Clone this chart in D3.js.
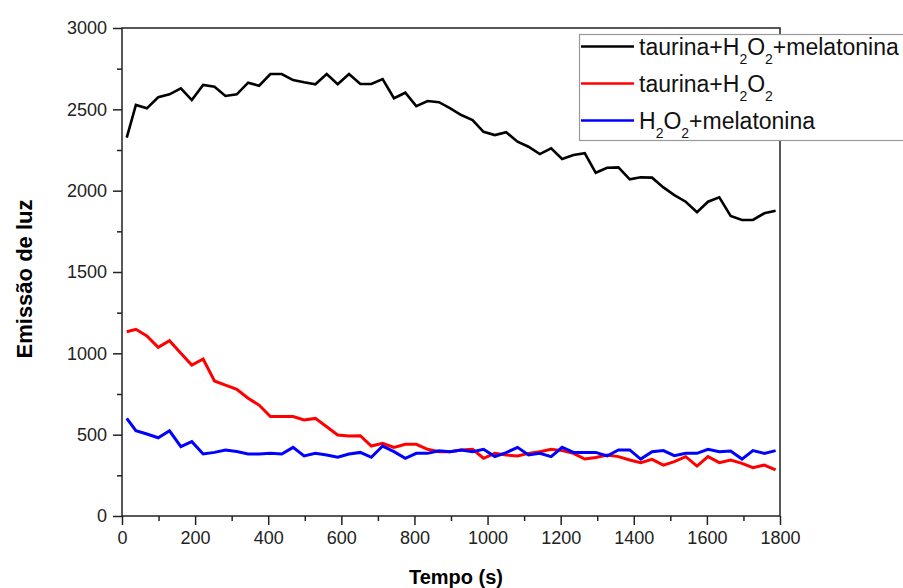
<!DOCTYPE html>
<html>
<head>
<meta charset="utf-8">
<script src="https://cdn.jsdelivr.net/npm/d3@7"></script>
<style>
    body { margin: 0; background: #fff; }
    svg { font-family: "Liberation Sans", Arial, sans-serif; }
</style>
</head>
<body>
<div id="chart"></div>
<script>
// time points (s)
const tempo = [13, 38, 68, 99, 130, 161, 191, 222, 253, 283, 314, 345, 375, 406, 437, 468, 498, 529, 560, 590,
    621, 652, 682, 713, 744, 775, 805, 836, 867, 897, 928, 959, 989, 1020, 1051, 1082, 1112, 1143, 1174, 1204,
    1235, 1266, 1296, 1327, 1358, 1389, 1419, 1450, 1481, 1511, 1542, 1573, 1603, 1634, 1665, 1696, 1726, 1757, 1788];

const taurinaH2O2Mel = [2326, 2527, 2506, 2574, 2592, 2629, 2557, 2650, 2639, 2582, 2592, 2664, 2645, 2717, 2717,
    2680, 2666, 2654, 2717, 2654, 2717, 2656, 2656, 2686, 2568, 2602, 2520, 2551, 2544, 2508, 2465, 2434, 2362,
    2342, 2359, 2301, 2270, 2225, 2260, 2195, 2219, 2230, 2110, 2141, 2143, 2070, 2082, 2080, 2020, 1973, 1932,
    1867, 1932, 1959, 1844, 1820, 1820, 1861, 1877];

const taurinaH2O2 = [1133, 1148, 1107, 1037, 1078, 1000, 928, 965, 830, 805, 779, 724, 682, 611, 611, 611, 590, 600,
    549, 498, 492, 494, 430, 447, 422, 441, 441, 410, 395, 395, 406, 410, 355, 385, 375, 369, 385, 395, 410, 402,
    385, 350, 360, 375, 365, 344, 328, 348, 313, 334, 365, 307, 365, 328, 344, 324, 297, 313, 283];

const h2o2Mel = [600, 524, 504, 481, 524, 426, 457, 381, 391, 406, 396, 381, 381, 385, 381, 422, 369, 385, 375, 361,
    381, 391, 361, 430, 396, 355, 385, 385, 401, 395, 406, 395, 410, 365, 390, 422, 375, 385, 365, 422, 391, 391,
    391, 369, 406, 406, 350, 395, 402, 371, 385, 385, 410, 395, 400, 350, 402, 385, 402];

// "_2" marks a subscript
const seriesNames = ["taurina+H_2O_2+melatonina", "taurina+H_2O_2", "H_2O_2+melatonina"];
const seriesColors = ["#000000", "#ff0000", "#0000ff"];
const seriesValues = [taurinaH2O2Mel, taurinaH2O2, h2o2Mel];

const xMajor = d3.range(0, 1801, 200);
const xMinor = d3.range(100, 1800, 200);
const yMajor = d3.range(0, 3001, 500);
const yMinor = d3.range(250, 3000, 500);

const width = 903, height = 588;
const plot = { left: 122, right: 780, top: 28, bottom: 516 };

const svg = d3.select("#chart").append("svg")
    .attr("width", width)
    .attr("height", height);

const x = d3.scaleLinear().domain([0, 1800]).range([plot.left, plot.right]);
const y = d3.scaleLinear().domain([0, 3000]).range([plot.bottom, plot.top]);

// minor ticks
svg.append("g")
    .attr("transform", `translate(0, ${plot.bottom})`)
    .call(d3.axisBottom(x).tickValues(xMinor).tickSize(5).tickFormat(""))
    .call(g => g.select(".domain").remove())
    .call(g => g.selectAll("text").remove())
    .call(g => g.selectAll("line").attr("stroke", "#222").attr("stroke-width", 1.5));

svg.append("g")
    .attr("transform", `translate(${plot.left}, 0)`)
    .call(d3.axisLeft(y).tickValues(yMinor).tickSize(5).tickFormat(""))
    .call(g => g.select(".domain").remove())
    .call(g => g.selectAll("text").remove())
    .call(g => g.selectAll("line").attr("stroke", "#222").attr("stroke-width", 1.5));

// major ticks
svg.append("g")
    .attr("transform", `translate(0, ${plot.bottom})`)
    .call(d3.axisBottom(x).tickValues(xMajor).tickSize(9).tickPadding(6).tickFormat(d3.format("d")))
    .call(g => g.select(".domain").remove())
    .call(g => g.selectAll("line").attr("stroke", "#222").attr("stroke-width", 1.5))
    .call(g => g.selectAll("text").attr("font-size", 18).attr("fill", "#222").attr("font-family", null));

svg.append("g")
    .attr("transform", `translate(${plot.left}, 0)`)
    .call(d3.axisLeft(y).tickValues(yMajor).tickSize(9).tickPadding(6).tickFormat(d3.format("d")))
    .call(g => g.select(".domain").remove())
    .call(g => g.selectAll("line").attr("stroke", "#222").attr("stroke-width", 1.5))
    .call(g => g.selectAll("text").attr("font-size", 18).attr("fill", "#222").attr("font-family", null));

// frame
svg.append("rect")
    .attr("x", plot.left)
    .attr("y", plot.top)
    .attr("width", plot.right - plot.left)
    .attr("height", plot.bottom - plot.top)
    .attr("fill", "none")
    .attr("stroke", "#222")
    .attr("stroke-width", 1.5);

// lines
const line = d3.line()
    .x((d, i) => x(tempo[i]))
    .y(d => y(d));

seriesValues.forEach((vals, k) => {
    svg.append("path")
        .datum(vals)
        .attr("fill", "none")
        .attr("stroke", seriesColors[k])
        .attr("stroke-width", k === 0 ? 2.6 : 3)
        .attr("stroke-linejoin", "miter")
        .attr("d", line);
});

// axis titles
svg.append("text")
    .attr("x", 456)
    .attr("y", 584)
    .attr("text-anchor", "middle")
    .attr("font-size", 20)
    .attr("font-weight", "bold")
    .text("Tempo (s)");

svg.append("text")
    .attr("transform", "translate(32, 279) rotate(-90)")
    .attr("text-anchor", "middle")
    .attr("font-size", 22)
    .attr("font-weight", "bold")
    .text("Emissão de luz");

// legend
const legend = svg.append("g");
legend.append("rect")
    .attr("x", 579.5)
    .attr("y", 34.5)
    .attr("width", 340)
    .attr("height", 106)
    .attr("fill", "#fff")
    .attr("stroke", "#999")
    .attr("stroke-width", 1.2);

const rowY = [46.5, 83.5, 120.5];

function addLabel(sel, label) {
    let shift = 0;
    label.split(/(_2)/).forEach(part => {
        if (part === "_2") {
            sel.append("tspan").attr("font-size", 14).attr("dy", 9 - shift).text("2");
            shift = 9;
        } else if (part.length) {
            sel.append("tspan").attr("font-size", 23).attr("dy", -shift).text(part);
            shift = 0;
        }
    });
}

seriesNames.forEach((name, k) => {
    legend.append("line")
        .attr("x1", 581).attr("x2", 634)
        .attr("y1", rowY[k]).attr("y2", rowY[k])
        .attr("stroke", seriesColors[k])
        .attr("stroke-width", 2.5);
    const t = legend.append("text")
        .attr("x", 639)
        .attr("y", rowY[k] + 8.5)
        .attr("font-size", 23)
        .attr("fill", "#111");
    addLabel(t, name);
});
</script>
</body>
</html>
